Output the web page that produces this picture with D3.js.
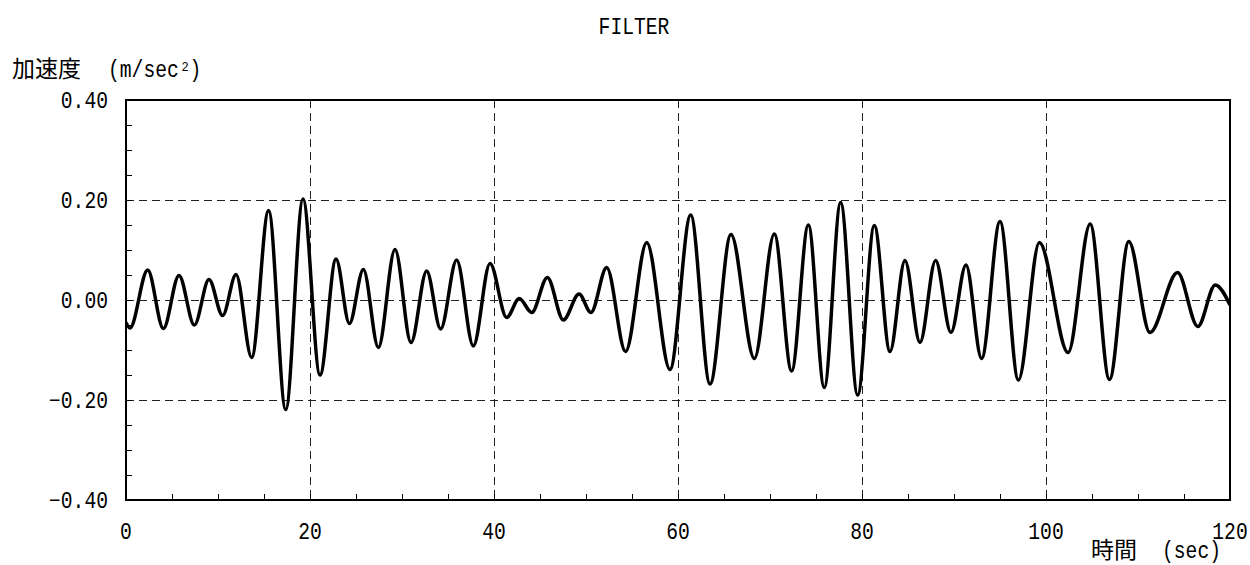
<!DOCTYPE html>
<html>
<head>
<meta charset="utf-8">
<script src="https://cdn.jsdelivr.net/npm/d3@7"></script>
<style>
  html, body { margin: 0; padding: 0; background: #fff; }
  svg { display: block; }
  .lat { font-family: "Liberation Mono", "DejaVu Sans Mono", monospace; }
  .cjk { font-family: "Noto Sans CJK JP", sans-serif; }
</style>
</head>
<body>
<svg id="chart" width="1250" height="565"></svg>
<script>
// ---- data (successive peaks / troughs) ----
const timeSec = [0, 0.43, 2.36, 4.06, 5.76, 7.43, 9.02, 10.5, 11.96, 13.66,
  15.5, 17.36, 19.24, 21.09, 22.83, 24.28, 25.8, 27.43, 29.24, 30.98,
  32.68, 34.2, 35.94, 37.75, 39.57, 41.38, 42.75, 44.1, 45.8, 47.54,
  49.24, 50.54, 52.25, 54.3, 56.6, 59.13, 61.38, 63.48, 65.76, 68.3,
  70.47, 72.35, 74.17, 75.9, 77.68, 79.53, 81.34, 83.04, 84.67, 86.3,
  88.0, 89.67, 91.3, 93.0, 95.0, 97.0, 99.28, 102.4, 104.8, 106.9,
  109.0, 111.3, 114.3, 116.5, 118.4, 120];
const accel = [-0.045, -0.056, 0.06, -0.057, 0.049, -0.05, 0.041, -0.031, 0.051, -0.115,
  0.179, -0.219, 0.202, -0.15, 0.082, -0.047, 0.061, -0.095, 0.101, -0.085,
  0.058, -0.058, 0.08, -0.092, 0.073, -0.035, 0.003, -0.025, 0.045, -0.04,
  0.012, -0.025, 0.065, -0.103, 0.115, -0.139, 0.17, -0.168, 0.131, -0.117,
  0.132, -0.142, 0.15, -0.175, 0.195, -0.19, 0.149, -0.103, 0.079, -0.085,
  0.079, -0.065, 0.07, -0.117, 0.157, -0.16, 0.115, -0.105, 0.152, -0.159,
  0.117, -0.065, 0.055, -0.053, 0.03, -0.01];
const xTicks = [0, 20, 40, 60, 80, 100, 120];
const yTicks = [-0.4, -0.2, 0, 0.2, 0.4];
const xMinor = d3.range(0, 121, 5);
const yMinor = d3.range(-0.4, 0.401, 0.05).map(v => +v.toFixed(2));
const titleText = "FILTER";
const yTitle = "加速度";
const yUnit = "(m/sec";
const yUnitSup = "2";
const xTitle = "時間";
const xUnit = "(sec)";

// ---- layout ----
const L = 126, R = 1230, T = 100, B = 500;
const CH = 11.8; // monospace cell width
const svg = d3.select("#chart");
const x = d3.scaleLinear().domain([0, 120]).range([L, R]);
const y = d3.scaleLinear().domain([-0.4, 0.4]).range([B, T]);
const px = v => Math.round(v) + 0.5;

// grid
const g = svg.append("g");
g.selectAll(".gx").data(xTicks.filter(d => d > 0 && d < 120)).join("line")
  .attr("x1", d => px(x(d))).attr("x2", d => px(x(d))).attr("y1", T).attr("y2", B)
  .attr("stroke", "#222").attr("stroke-width", 1).attr("stroke-dasharray", "8,5");
g.selectAll(".gy").data(yTicks.filter(d => d > -0.4 && d < 0.4)).join("line")
  .attr("x1", L).attr("x2", R).attr("y1", d => px(y(d))).attr("y2", d => px(y(d)))
  .attr("stroke", "#222").attr("stroke-width", 1).attr("stroke-dasharray", "8,5");

// minor ticks (inward)
g.selectAll(".mx").data(xMinor).join("line")
  .attr("x1", d => px(x(d))).attr("x2", d => px(x(d))).attr("y1", B).attr("y2", B - 6)
  .attr("stroke", "#000").attr("stroke-width", 1);
g.selectAll(".my").data(yMinor).join("line")
  .attr("x1", L).attr("x2", L + 6).attr("y1", d => px(y(d))).attr("y2", d => px(y(d)))
  .attr("stroke", "#000").attr("stroke-width", 1);

// data line
const pts = timeSec.map((t, i) => [t, accel[i]]);
const line = d3.line().x(d => x(d[0])).y(d => y(d[1])).curve(d3.curveMonotoneX);
svg.append("clipPath").attr("id", "clp").append("rect")
  .attr("x", L).attr("y", T).attr("width", R - L).attr("height", B - T);
svg.append("path").datum(pts).attr("d", line).attr("clip-path", "url(#clp)")
  .attr("fill", "none").attr("stroke", "#000").attr("stroke-width", 3.5)
  .attr("stroke-linejoin", "round");

// frame
svg.append("rect").attr("x", L).attr("y", T).attr("width", R - L).attr("height", B - T)
  .attr("fill", "none").attr("stroke", "#000").attr("stroke-width", 2);

// helper for mono text
function mono(sel, str, xPos, yPos, anchor) {
  const w = str.length * CH;
  let x0 = xPos;
  if (anchor === "end") x0 = xPos - w;
  if (anchor === "middle") x0 = xPos - w / 2;
  return sel.append("text").attr("class", "lat").attr("x", x0).attr("y", yPos)
    .attr("font-size", 23).attr("textLength", w).attr("lengthAdjust", "spacingAndGlyphs")
    .attr("fill", "#000").text(str);
}

// tick labels
const fy = d3.format(".2f");
yTicks.forEach(v => mono(svg, fy(v), 108, y(v) + 7.5, "end"));
xTicks.forEach(v => mono(svg, String(v), x(v), 539, "middle"));

// titles
mono(svg, titleText, 634, 34, "middle");
svg.append("text").attr("class", "cjk").attr("x", 12).attr("y", 77)
  .attr("font-size", 23).text(yTitle);
mono(svg, yUnit, 108, 77, "start");
svg.append("text").attr("class", "lat").attr("x", 181.5).attr("y", 71)
  .attr("font-size", 12).text(yUnitSup);
mono(svg, ")", 189.5, 77, "start");

svg.append("text").attr("class", "cjk").attr("x", 1091).attr("y", 558)
  .attr("font-size", 23).text(xTitle);
mono(svg, xUnit, 1162, 558, "start");
</script>
</body>
</html>
